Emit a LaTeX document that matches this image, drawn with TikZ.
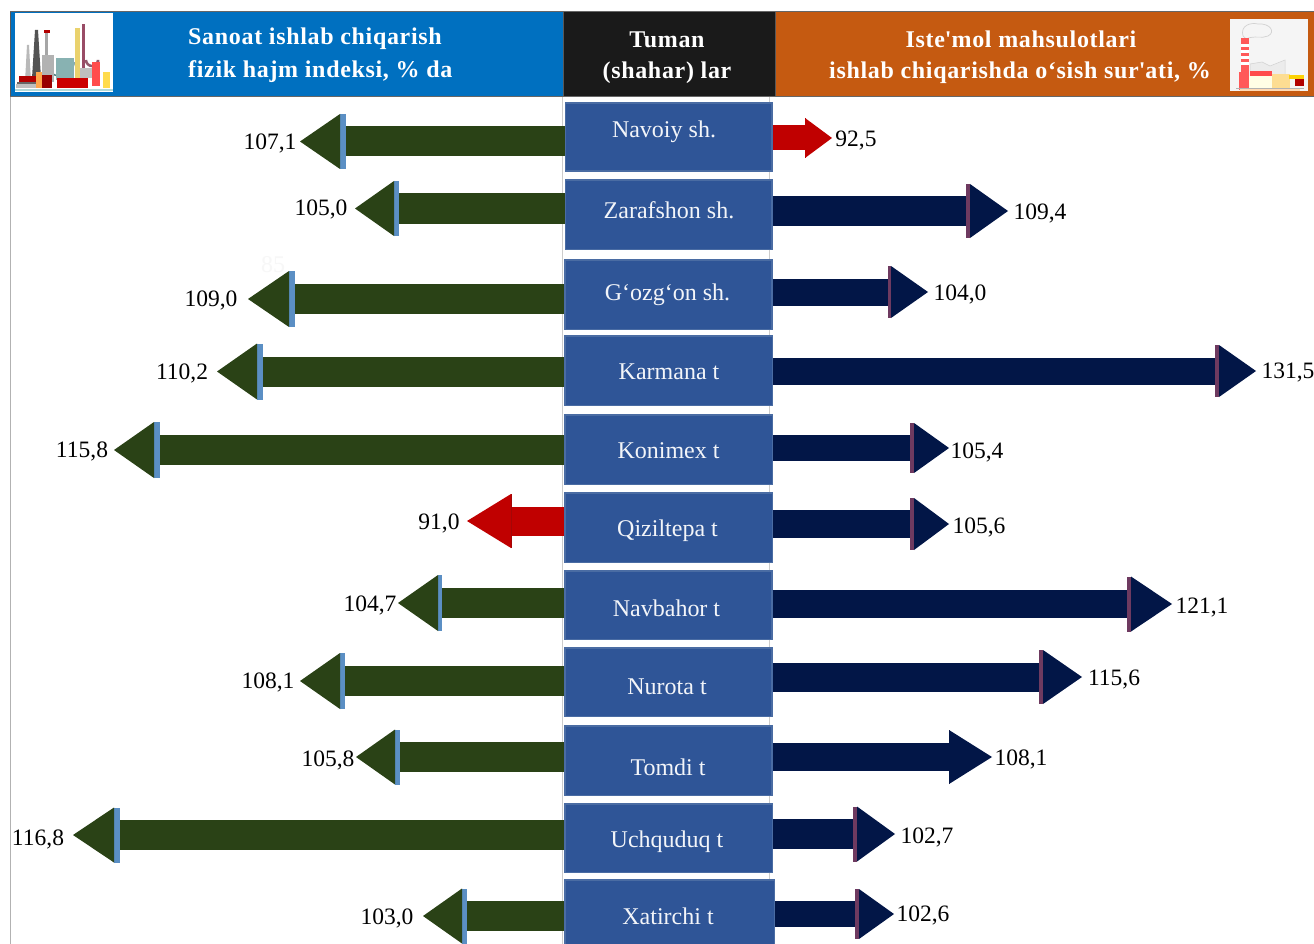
\documentclass[tikz,border=0pt]{standalone}
\usepackage{fontspec}
\setmainfont{Liberation Serif}
\newfontfamily\hdrfont[LetterSpace=2.8]{Liberation Serif}
\usetikzlibrary{arrows.meta}
\definecolor{hblue}{HTML}{0070C0}
\definecolor{hblack}{HTML}{1A1A1A}
\definecolor{horange}{HTML}{C55A11}
\definecolor{cell}{HTML}{2F5597}
\definecolor{celledge}{HTML}{4A6CA3}
\definecolor{grn}{HTML}{2A4216}
\definecolor{grnstrip}{HTML}{5B8FC4}
\definecolor{navy}{HTML}{021647}
\definecolor{navystrip}{HTML}{6E3A60}
\definecolor{redar}{HTML}{C00000}
\definecolor{redstrip}{HTML}{A00808}
\tikzset{
  x=1pt,y=-1pt,
  hdr/.style={font=\hdrfont\fontsize{24}{26}\selectfont\bfseries,text=white,inner sep=0pt,yshift=-1.5pt},
  celltext/.style={font=\fontsize{24}{26}\selectfont,text=white!94!cell,inner sep=0pt,yshift=-1.5pt},
  val/.style={font=\fontsize{23.5}{26}\selectfont,text=black,inner sep=0pt,yshift=-2pt},
  cellbox/.style={fill=cell,draw=celledge,line width=1.6pt,inner sep=0pt,anchor=north west},
}
% \blockarr{box anchor}{tip coordinate}{triangle len}{strip len}{shaft width}{head width}{colour}{strip colour}
\newcommand\blockarr[8]{%
  \draw[#7,line width=#5pt,
    -{Rectangle[length=#4pt,width=#6pt,color=#8,line width=0pt]Triangle[length=#3pt,width=#6pt,color=#7,line width=0pt]}]
    (#1 |- #2) -- (#2);}
% \cellrow{name}{x0}{y0}{w}{h}{text x}{text y}{text}
\newcommand\cellrow[8]{%
  \node[cellbox,minimum width=#4pt,minimum height=#5pt] (#1) at (#2,#3) {};
  \node[celltext] (#1t) at (#6,#7) {#8};}
\begin{document}
\begin{tikzpicture}
\useasboundingbox (0,0) rectangle (1314,944);
\fill[white] (0,0) rectangle (1314,944);
% guide lines
\draw[gray!60,line width=1pt] (10.5,96) -- (10.5,944);
\draw[gray!40,line width=0.8pt] (562.5,96) -- (562.5,944);
\draw[gray!40,line width=0.8pt] (769,96) -- (769,944);
% header
\fill[hblue] (11,12) rectangle (563,96);
\fill[hblack] (563,12) rectangle (775,96);
\fill[horange] (775,12) rectangle (1314,96);
\draw[gray!80!black,line width=1pt] (10,12) -- (1314,12);
\draw[gray!80!black,line width=0.8pt] (10,96) -- (1314,96);
\draw[gray!70!black,line width=0.6pt] (10.5,12) -- (10.5,96) (563,12) -- (563,96) (775,12) -- (775,96);
\node[hdr] (h1a) at (315,37.5) {Sanoat ishlab chiqarish};
\node[hdr,anchor=west] (h1b) at (188,70.5) {fizik hajm indeksi, \% da};
\node[hdr] (h2a) at (667,38) {Tuman};
\node[hdr] (h2b) at (667,71) {(shahar) lar};
\node[hdr] (h3a) at (1021,38) {Iste\textquotesingle mol mahsulotlari};
\node[hdr] (h3b) at (1020,71) {ishlab chiqarishda o‘sish sur\textquotesingle ati, \%};
% left icon
\fill[white] (15,13) rectangle (113,92);
\fill[gray!55] (27,45) -- (29,45) -- (31,82) -- (25,82) -- cycle;
\fill[gray!65!black] (35,30) -- (38,30) -- (41,78) -- (32,78) -- cycle;
\fill[gray!70] (45,32) rectangle (48,70);
\fill[red!70!black] (44,30) rectangle (50,33);
\draw[gray!60!teal,line width=1.5pt] (46,62) arc (180:0:14);
\fill[gray!60] (42,55) rectangle (54,82);
\fill[gray!45!teal!60] (56,58) rectangle (74,80);
\fill[yellow!50!brown!70] (75,28) rectangle (80,78);
\fill[gray!60!purple] (82,24) rectangle (85,70);
\draw[gray!70!purple,line width=2.5pt] (86,60) arc (180:0:6) -- (98,75);
\fill[gray!50] (80,68) rectangle (95,78);
\fill[red!80!black] (57,78) rectangle (88,88);
\fill[red!70] (92,62) rectangle (100,86);
\fill[orange!40!yellow!70] (103,72) rectangle (110,88);
\fill[red!70!black] (19,76) rectangle (36,82);
\fill[gray!80!black] (17,82) rectangle (42,84);
\fill[orange!70] (36,72) rectangle (42,88);
\fill[red!60!black] (42,75) rectangle (52,88);
\fill[gray!50] (16,84) rectangle (36,88);
\fill[teal!30] (15,89) rectangle (113,91);
% right icon
\fill[gray!8] (1230,19) rectangle (1308,91);
\filldraw[fill=white!92!gray,draw=gray!35,line width=0.7pt] (1243,36) .. controls (1240,26) and (1250,22) .. (1258,24) .. controls (1270,23) and (1276,32) .. (1268,36) .. controls (1262,39) and (1254,35) .. (1246,39) -- cycle;
\fill[red!65] (1241,38) rectangle (1249,72);
\foreach \yy in {44,50,56,62} \fill[white] (1241,\yy) rectangle (1249,\yy+3);
\fill[red!65] (1239,72) rectangle (1249,90);
\filldraw[fill=gray!15,draw=gray!35,line width=0.5pt] (1250,72) -- (1250,64) -- (1262,62) -- (1270,66) -- (1285,60) -- (1285,90) -- (1250,90) -- cycle;
\fill[red!70] (1250,71) rectangle (1272,76);
\fill[white!90!yellow] (1249,76) rectangle (1272,90);
\fill[yellow!40!orange!40] (1272,74) rectangle (1290,90);
\fill[yellow!70!orange] (1289,75) rectangle (1304,79);
\fill[red!70!black] (1295,79) rectangle (1304,86);
\fill[gray!60] (1236,88) rectangle (1304,89);
\fill[orange!30] (1240,89) rectangle (1300,91);
% faint trace
\node[font=\fontsize{24}{26}\selectfont,text=gray!6,inner sep=0pt] (faint) at (273,265) {85};
% cells
\cellrow{c1}{564.5}{102}{206.5}{68.5}{664}{130}{Navoiy sh.}
\cellrow{c2}{564.5}{179}{206.5}{69.5}{669}{209}{Zarafshon sh.}
\cellrow{c3}{564}{259}{207}{69.5}{667.5}{293.5}{G‘ozg‘on sh.}
\cellrow{c4}{564}{335}{207.5}{69.5}{669}{370}{Karmana t}
\cellrow{c5}{564}{414}{207.5}{69.5}{668.5}{449}{Konimex t}
\cellrow{c6}{564}{492}{207.5}{69.5}{667.5}{529}{Qiziltepa t}
\cellrow{c7}{564}{570}{207}{68.5}{666.5}{606.5}{Navbahor t}
\cellrow{c8}{564}{647}{207}{68.5}{667}{685}{Nurota t}
\cellrow{c9}{564}{725}{207}{69.5}{668}{766}{Tomdi t}
\cellrow{c10}{564}{803}{207.5}{68.5}{667}{840}{Uchquduq t}
\cellrow{c11}{564}{879}{209.5}{70}{668}{914.5}{Xatirchi t}
% tips
\foreach \nm/\xx/\yy in {l1/300/141.5,l2/355/208.5,l3/248/299,l4/217/371.5,l5/114/450,l6/467/521,l7/398/603,l8/300/681,l9/356/757,l10/73/835,l11/423/916,
 r1/832/138,r2/1008/211,r3/928/292,r4/1256/371,r5/949/448,r6/949/524,r7/1172/604,r8/1082/677,r9/992/757,r10/895/834,r11/894/914}
  \coordinate (\nm) at (\xx,\yy);
% left arrows
\blockarr{c1.west}{l1}{40}{6}{30}{55}{grn}{grnstrip}
\blockarr{c2.west}{l2}{39}{5}{30}{55}{grn}{grnstrip}
\blockarr{c3.west}{l3}{41}{6}{30}{56}{grn}{grnstrip}
\blockarr{c4.west}{l4}{40}{6}{30}{56}{grn}{grnstrip}
\blockarr{c5.west}{l5}{40}{6}{30}{56}{grn}{grnstrip}
\blockarr{c6.west}{l6}{44}{0.1}{29}{54}{redar}{redstrip}
\blockarr{c7.west}{l7}{40}{4}{30}{56}{grn}{grnstrip}
\blockarr{c8.west}{l8}{40}{5}{30}{56}{grn}{grnstrip}
\blockarr{c9.west}{l9}{39}{5}{30}{55}{grn}{grnstrip}
\blockarr{c10.west}{l10}{41}{6}{30}{55}{grn}{grnstrip}
\blockarr{c11.west}{l11}{39}{5}{30}{55}{grn}{grnstrip}
% right arrows
\blockarr{c1.east}{r1}{27}{0.1}{25}{40}{redar}{redstrip}
\blockarr{c2.east}{r2}{38}{4}{29}{54}{navy}{navystrip}
\blockarr{c3.east}{r3}{37}{3}{27}{52}{navy}{navystrip}
\blockarr{c4.east}{r4}{37}{4}{27}{52}{navy}{navystrip}
\blockarr{c5.east}{r5}{35}{4}{26}{50}{navy}{navystrip}
\blockarr{c6.east}{r6}{35}{4}{28}{52}{navy}{navystrip}
\blockarr{c7.east}{r7}{41}{4}{28}{55}{navy}{navystrip}
\blockarr{c8.east}{r8}{39}{4}{29}{54}{navy}{navystrip}
\blockarr{c9.east}{r9}{43}{0.1}{28}{54}{navy}{navystrip}
\blockarr{c10.east}{r10}{38}{4}{30}{55}{navy}{navystrip}
\blockarr{c11.east}{r11}{35}{4}{26}{50}{navy}{navystrip}
% values
\node[val] (vl1) at (270,141) {107,1};
\node[val] (vl2) at (321,207) {105,0};
\node[val] (vl3) at (211,298) {109,0};
\node[val] (vl4) at (182,371) {110,2};
\node[val] (vl5) at (82,449) {115,8};
\node[val] (vl6) at (439,521) {91,0};
\node[val] (vl7) at (370,603) {104,7};
\node[val] (vl8) at (268,680) {108,1};
\node[val] (vl9) at (328,758) {105,8};
\node[val] (vl10) at (38,837) {116,8};
\node[val] (vl11) at (387,916) {103,0};
\node[val] (vr1) at (856,139) {92,5};
\node[val] (vr2) at (1040,211) {109,4};
\node[val] (vr3) at (960,292) {104,0};
\node[val] (vr4) at (1288,371) {131,5};
\node[val] (vr5) at (977,450) {105,4};
\node[val] (vr6) at (979,525) {105,6};
\node[val] (vr7) at (1202,606) {121,1};
\node[val] (vr8) at (1114,678) {115,6};
\node[val] (vr9) at (1021,757) {108,1};
\node[val] (vr10) at (927,835) {102,7};
\node[val] (vr11) at (923,913) {102,6};
\end{tikzpicture}
\end{document}
